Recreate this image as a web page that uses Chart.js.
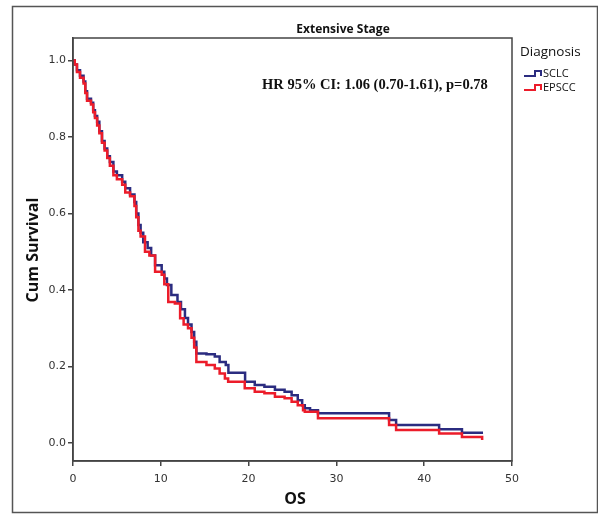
<!DOCTYPE html>
<html>
<head>
<meta charset="utf-8">
<script src="https://cdn.jsdelivr.net/npm/chart.js@4.4.1/dist/chart.umd.min.js"></script>
<style>
  html, body { margin: 0; padding: 0; background: #fff; }
  #wrap { width: 598px; height: 520px; position: relative; }
</style>
</head>
<body>
<div id="wrap"><canvas id="kmChart" width="598" height="520"></canvas></div>
<script>
// Kaplan-Meier step points [months, cumulative survival]
const sclcTimes = [0, 0.2, 0.45, 0.8, 1.2, 1.4, 1.6, 2.05, 2.3, 2.5, 2.75, 3.0, 3.3, 3.6, 3.9, 4.2, 4.6, 5.0, 5.6, 5.95, 6.5, 7.0, 7.2, 7.45, 7.7, 8.0, 8.5, 8.9, 9.35, 10.1, 10.4, 10.7, 11.2, 11.9, 12.3, 12.75, 13.1, 13.5, 13.8, 14.05, 15.2, 16.15, 16.7, 17.4, 17.7, 19.6, 20.7, 21.8, 23.0, 24.1, 24.9, 25.6, 26.1, 26.4, 27.0, 27.9, 36.0, 36.8, 41.7, 44.3, 46.7];
const sclcSurv  = [1.0, 0.99, 0.975, 0.96, 0.945, 0.92, 0.90, 0.89, 0.87, 0.855, 0.84, 0.815, 0.79, 0.77, 0.75, 0.735, 0.71, 0.70, 0.683, 0.666, 0.65, 0.63, 0.60, 0.57, 0.55, 0.525, 0.51, 0.49, 0.465, 0.448, 0.43, 0.413, 0.387, 0.369, 0.35, 0.327, 0.31, 0.29, 0.265, 0.234, 0.232, 0.226, 0.212, 0.204, 0.184, 0.160, 0.152, 0.147, 0.139, 0.134, 0.125, 0.112, 0.099, 0.091, 0.086, 0.078, 0.060, 0.047, 0.036, 0.027, 0.027];

const epsccTimes = [0, 0.2, 0.45, 0.8, 1.2, 1.4, 1.6, 2.05, 2.3, 2.5, 2.75, 3.0, 3.3, 3.6, 3.9, 4.2, 4.6, 5.0, 5.6, 5.95, 6.5, 7.0, 7.2, 7.45, 7.7, 8.2, 8.7, 9.35, 10.1, 10.4, 10.85, 11.6, 12.2, 12.6, 13.1, 13.5, 13.8, 14.05, 15.2, 16.15, 16.7, 17.3, 17.67, 19.56, 20.7, 21.8, 23.0, 24.1, 24.9, 25.6, 26.2, 26.4, 27.9, 36.0, 36.8, 41.7, 44.3, 46.6];
const epsccSurv  = [1.0, 0.99, 0.97, 0.955, 0.94, 0.915, 0.895, 0.885, 0.865, 0.85, 0.83, 0.81, 0.785, 0.765, 0.745, 0.725, 0.70, 0.69, 0.675, 0.655, 0.645, 0.62, 0.59, 0.555, 0.54, 0.50, 0.49, 0.448, 0.44, 0.415, 0.369, 0.365, 0.326, 0.31, 0.30, 0.275, 0.25, 0.212, 0.204, 0.195, 0.182, 0.169, 0.160, 0.143, 0.134, 0.130, 0.121, 0.117, 0.108, 0.099, 0.086, 0.082, 0.065, 0.047, 0.034, 0.025, 0.016, 0.008];

const xTicks = [0, 10, 20, 30, 40, 50];
const yTicks = [0.0, 0.2, 0.4, 0.6, 0.8, 1.0];
const groups = ['SCLC', 'EPSCC'];
const colors = ['#2b2c80', '#ec1c2a'];

const toPoints = (xs, ys) => xs.map((x, i) => ({ x: x, y: ys[i] }));

// title, axis titles, annotation, legend and frames
const extras = {
    id: 'extras',
    afterDraw(chart) {
        const ctx = chart.ctx;
        const a = chart.chartArea;
        ctx.save();
        // outer frame
        ctx.strokeStyle = '#555';
        ctx.lineWidth = 1.5;
        ctx.strokeRect(12.5, 6.5, 585, 506);
        // plot box
        ctx.strokeStyle = '#444';
        ctx.lineWidth = 1.5;
        ctx.strokeRect(a.left, a.top, a.right - a.left, a.bottom - a.top);

        ctx.fillStyle = '#111';
        ctx.textBaseline = 'middle';
        ctx.textAlign = 'center';
        ctx.font = 'bold 12px "Open Sans", "Liberation Sans", sans-serif';
        ctx.fillText('Extensive Stage', 343, 30);

        // axis titles
        ctx.font = 'bold 16px "Open Sans", sans-serif';
        ctx.fillText('OS', 295, 499);
        ctx.save();
        ctx.translate(33, 250);
        ctx.rotate(-Math.PI / 2);
        ctx.fillText('Cum Survival', 0, 0);
        ctx.restore();

        ctx.textAlign = 'left';
        ctx.font = 'bold 14.5px "Liberation Serif", "Times New Roman", serif';
        ctx.fillText('HR 95% CI: 1.06 (0.70-1.61), p=0.78', 262, 85);

        // legend
        ctx.font = '13.5px "Open Sans", sans-serif';
        ctx.fillText('Diagnosis', 520, 52);
        ctx.font = '11px "Open Sans", sans-serif';
        groups.forEach((g, i) => {
            const y = 76 + i * 14;
            ctx.strokeStyle = colors[i];
            ctx.lineWidth = 2;
            ctx.beginPath();
            ctx.moveTo(524, y);
            ctx.lineTo(535, y);
            ctx.lineTo(535, y - 5);
            ctx.lineTo(541, y - 5);
            ctx.lineTo(541, y);
            ctx.stroke();
            ctx.fillStyle = '#111';
            ctx.fillText(g, 543, y - 2);
        });
        ctx.restore();
    }
};

const ctx = document.getElementById('kmChart').getContext('2d');
new Chart(ctx, {
    type: 'line',
    data: {
        datasets: [{
            label: groups[0],
            data: toPoints(sclcTimes, sclcSurv),
            borderColor: colors[0],
            borderWidth: 2.5,
            stepped: 'before',
            pointRadius: 0,
            fill: false,
            order: 2
        }, {
            label: groups[1],
            data: toPoints(epsccTimes, epsccSurv),
            borderColor: colors[1],
            borderWidth: 2.5,
            stepped: 'before',
            pointRadius: 0,
            fill: false,
            order: 1
        }]
    },
    options: {
        responsive: false,
        animation: false,
        events: [],
        layout: { padding: { top: 38, right: 86, left: 0, bottom: 0 } },
        plugins: { legend: { display: false }, tooltip: { enabled: false } },
        scales: {
            x: {
                type: 'linear',
                min: 0,
                max: 50,
                afterBuildTicks: s => { s.ticks = xTicks.map(v => ({ value: v })); },
                afterFit: s => { s.height = 59; },
                grid: { drawOnChartArea: false, drawTicks: true, tickLength: 5, color: '#444', lineWidth: 1.5 },
                border: { color: '#444', width: 1.5 },
                ticks: { color: '#333', font: { family: '"DejaVu Sans", sans-serif', size: 11 }, padding: 7, maxRotation: 0 }
            },
            y: {
                type: 'linear',
                min: -0.047,
                max: 1.059,
                afterBuildTicks: s => { s.ticks = yTicks.map(v => ({ value: v })); },
                afterFit: s => { s.width = 73; },
                grid: { drawOnChartArea: false, drawTicks: true, tickLength: 5, color: '#444', lineWidth: 1.5 },
                border: { color: '#444', width: 1.5 },
                ticks: { color: '#333', font: { family: '"DejaVu Sans", sans-serif', size: 11 }, padding: 2, callback: v => v.toFixed(1) }
            }
        }
    },
    plugins: [extras]
});
</script>
</body>
</html>
